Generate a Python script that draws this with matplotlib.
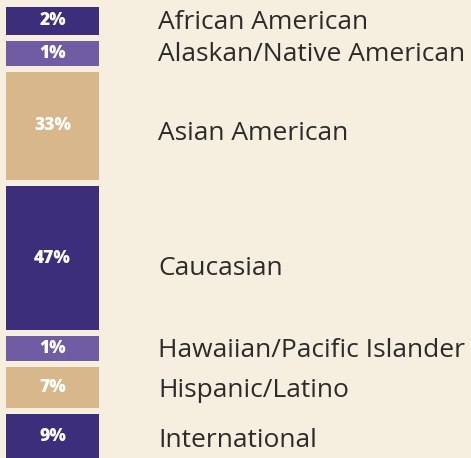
import matplotlib
matplotlib.use("Agg")
import matplotlib.pyplot as plt

categories = ["African American", "Alaskan/Native American", "Asian American",
              "Caucasian", "Hawaiian/Pacific Islander", "Hispanic/Latino", "International"]
values = [2, 1, 33, 47, 1, 7, 9]
value_labels = ["2%", "1%", "33%", "47%", "1%", "7%", "9%"]
colors = ["#3d2e7b", "#6f5ca3", "#d8b78a", "#3d2e7b", "#6f5ca3", "#d8b78a", "#3d2e7b"]

BG = "#f6eedf"
W, H = 471, 458
SCALE = 2.6     # px per percent
PAD = 22.4      # minimum px per segment
GAP = 6.0
TOP = 7.0

fig = plt.figure(figsize=(W / 100, H / 100), dpi=100, facecolor=BG)
ax = fig.add_axes([0, 0, 1, 1])
ax.set_facecolor(BG)
ax.set_xlim(0, W)
ax.set_ylim(H, 0)
ax.axis("off")

y = TOP
for cat, v, lab, c in zip(categories, values, value_labels, colors):
    h = SCALE * v + PAD
    ax.bar(52.5, h, width=93, bottom=y, color=c, align="center", linewidth=0)
    yc = y + h / 2
    ax.text(52.5, yc, lab, ha="center", va="center", color="white",
            fontsize=12.5, fontweight="heavy", family="Open Sans")
    ax.text(158, y + h * 0.57, cat, ha="left", va="center", color="#2b2b2b",
            fontsize=19, family="Open Sans")
    y += h + GAP

fig.savefig("out.png", dpi=100, facecolor=BG)
